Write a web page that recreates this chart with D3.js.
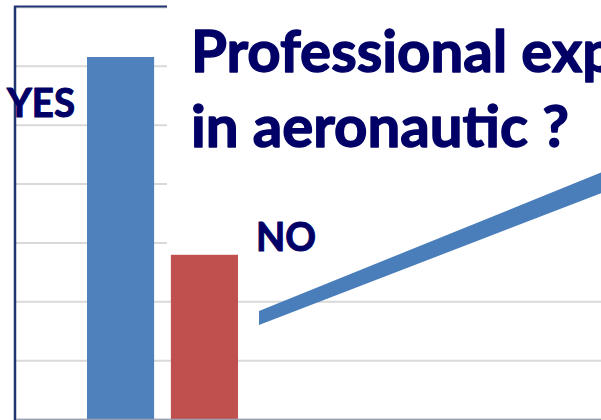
<!DOCTYPE html>
<html>
<head>
<meta charset="utf-8">
<script src="https://cdn.jsdelivr.net/npm/d3@7"></script>
<style>
  html, body { margin: 0; padding: 0; background: #fff; overflow: hidden; }
  svg { display: block; }
</style>
</head>
<body>
<svg id="chart" width="601" height="420"></svg>
<script>
// Survey answers: share of respondents (%)
const categories = ["YES", "NO"];
const values = [61.5, 27.9];
const barColors = ["#4f81bd", "#c0504d"];
const gridTicks = [0, 10, 20, 30, 40, 50, 60, 70];
const titleLines = ["Professional experience", "in aeronautic ?"];

const W = 601, H = 420;
const svg = d3.select("#chart");
const navy = "#000066";
const font = "Lato, 'Open Sans', sans-serif";

const plot = { left: 14, top: 7, right: W + 40, bottom: 419 };

const y = d3.scaleLinear().domain([0, 70]).range([plot.bottom, plot.top]);
const x = d3.scaleBand().domain(categories).range([87, 238]).paddingInner(0.2).paddingOuter(0);

// horizontal gridlines
const grid = svg.append("g")
  .attr("transform", `translate(${plot.left},0)`)
  .call(d3.axisLeft(y).tickValues(gridTicks).tickSize(-(plot.right - plot.left)).tickFormat(""));
grid.select(".domain").remove();
grid.selectAll(".tick line").attr("stroke", "#d9d9d9").attr("stroke-width", 2);

// title panel sits over the upper-right part of the plot
svg.append("rect")
  .attr("x", 167).attr("y", 0)
  .attr("width", W - 167).attr("height", 249)
  .attr("fill", "#fff");

// bars
svg.append("g").selectAll("rect")
  .data(categories)
  .join("rect")
  .attr("x", d => x(d))
  .attr("width", x.bandwidth())
  .attr("y", (d, i) => y(values[i]))
  .attr("height", (d, i) => y(0) - y(values[i]))
  .attr("fill", (d, i) => barColors[i]);

// axis frame
svg.append("line")
  .attr("x1", plot.left + 1).attr("x2", plot.left + 1)
  .attr("y1", 6).attr("y2", H)
  .attr("stroke", "#1f3470").attr("stroke-width", 2.5);
svg.append("line")
  .attr("x1", plot.left).attr("x2", 167)
  .attr("y1", 6.5).attr("y2", 6.5)
  .attr("stroke", "#1f3470").attr("stroke-width", 2);
svg.append("line")
  .attr("x1", plot.left + 2).attr("x2", W)
  .attr("y1", plot.bottom + 0.5).attr("y2", plot.bottom + 0.5)
  .attr("stroke", "#9aa0b4").attr("stroke-width", 1.5);

// fit a text element horizontally to a target width
function fitWidth(sel, target) {
  const w = sel.node().getComputedTextLength();
  const ax = +sel.attr("x");
  const s = target / w;
  sel.attr("transform", `translate(${ax * (1 - s)},0) scale(${s},1)`);
  return s;
}

function heavyText(sel, size, sw) {
  return sel.attr("font-family", font).attr("font-weight", 700).attr("font-size", size)
    .attr("fill", navy).attr("stroke", navy).attr("stroke-width", sw)
    .attr("stroke-linejoin", "round");
}

// category labels
const yesLbl = heavyText(svg.append("text")
  .attr("x", 7).attr("y", y(values[0]) + 60), 40, 1.1)
  .text(categories[0]);
fitWidth(yesLbl, 68);

const noLbl = heavyText(svg.append("text")
  .attr("x", x("NO") + x.bandwidth() + 18).attr("y", y(values[1]) - 4), 40, 1.1)
  .text(categories[1]);
fitWidth(noLbl, 60);

// trend arrow shaft rising to the right
const arrowStart = [259, 318], arrowEnd = [W + 20, 175];
const h0 = 7, h1 = 10.5;
svg.append("path")
  .attr("d", d3.line()([
    [arrowStart[0], arrowStart[1] - h0],
    [arrowEnd[0], arrowEnd[1] - h1],
    [arrowEnd[0], arrowEnd[1] + h1],
    [arrowStart[0], arrowStart[1] + h0]
  ]) + "Z")
  .attr("fill", "#4a7ebb");

// title
const t2 = heavyText(svg.append("text")
  .attr("x", 191).attr("y", 147), 57, 1.4)
  .text(titleLines[1]);
const s = fitWidth(t2, 378);
const t1 = heavyText(svg.append("text")
  .attr("x", 191).attr("y", 72), 57, 1.4)
  .text(titleLines[0]);
t1.attr("transform", `translate(${191 * (1 - s)},0) scale(${s},1)`);
</script>
</body>
</html>
